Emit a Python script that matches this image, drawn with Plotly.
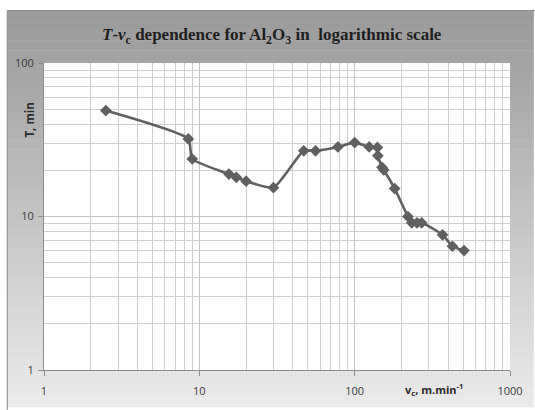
import plotly.graph_objects as go

# Data
v_c = [2.5, 8.5, 9, 15.5, 17.3, 20, 30, 47, 56, 78, 100, 124, 140, 141, 150, 154, 181, 220, 233, 252, 270, 368, 426, 506]
T_min = [49, 32, 23.7, 18.9, 18, 17, 15.4, 26.8, 26.8, 28.4, 30.3, 28.4, 28.2, 24.9, 20.9, 20.1, 15.2, 10, 9.1, 9.1, 9.1, 7.6, 6.4, 6.0]

x_ticks = [1, 10, 100, 1000]
x_tick_labels = ["1", "10", "100", "1000"]
y_ticks = [1, 10, 100]
y_tick_labels = ["1", "10", "100"]

W, H = 535, 410
L, R, TOP, B = 44, 22, 63, 37
pw, ph = W - L - R, H - TOP - B


def px_x(p):
    return (p - L) / pw


def px_y(p):
    return (H - B - p) / ph


fig = go.Figure()
fig.add_trace(go.Scatter(
    x=v_c, y=T_min, mode="lines+markers",
    line=dict(color="#606060", width=2.6, shape="spline", smoothing=0.5),
    marker=dict(symbol="diamond", size=9, color="#606060"),
    showlegend=False, hoverinfo="skip",
))

shapes = []
# vertical gray gradient background
n = 40
top, bot = 10, H
for i in range(n):
    y0 = top + (bot - top) * i / n
    y1 = top + (bot - top) * (i + 1) / n
    g = int(153 + (236 - 153) * (i + 0.5) / n)
    shapes.append(dict(type="rect", xref="paper", yref="paper", layer="below",
                       x0=px_x(7), x1=px_x(W + 2), y0=px_y(y1 + 0.5), y1=px_y(y0),
                       fillcolor=f"rgb({g},{g},{g})", line=dict(width=0)))
shapes.append(dict(type="rect", xref="paper", yref="paper", layer="below",
                   x0=px_x(7), x1=px_x(W + 5), y0=px_y(H + 5), y1=px_y(10),
                   fillcolor="rgba(0,0,0,0)", line=dict(color="#8a8a8a", width=1)))
shapes.append(dict(type="rect", xref="paper", yref="paper", layer="below",
                   x0=0, x1=1, y0=0, y1=1, fillcolor="white", line=dict(width=0)))

grid = "#cfcfcf"
axis_common = dict(
    type="log", showgrid=True, gridcolor="#c4c4c4", gridwidth=1,
    showline=True, linecolor="#8c8c8c", linewidth=1,
    ticks="outside", ticklen=5, tickcolor="#8c8c8c",
    tickfont=dict(family="Open Sans, DejaVu Sans, sans-serif", size=11, color="#3a3a3a"),
    minor=dict(dtick="D1", showgrid=True, gridcolor=grid, gridwidth=1, ticks=""),
    zeroline=False, mirror=False,
)

fig.update_layout(
    width=W, height=H,
    margin=dict(l=L, r=R, t=TOP, b=B, pad=0),
    paper_bgcolor="white", plot_bgcolor="white",
    shapes=shapes,
    xaxis=dict(axis_common, range=[0, 3], tickvals=x_ticks, ticktext=x_tick_labels,
               ticklabelstandoff=6),
    yaxis=dict(axis_common, range=[0, 2], tickvals=y_ticks, ticktext=y_tick_labels,
               ticklabelstandoff=2),
    annotations=[
        dict(text="<b><i>T</i>-<i>v</i><sub>c</sub> dependence for Al<sub>2</sub>O<sub>3</sub> in&nbsp; logarithmic scale</b>",
             xref="paper", yref="paper", x=px_x(273), y=px_y(36), showarrow=False,
             xanchor="center", yanchor="middle",
             font=dict(family="Liberation Serif, serif", size=17, color="#1e1e1e")),
        dict(text="<b>T, min</b>", textangle=-90,
             xref="paper", yref="paper", x=px_x(29), y=px_y(121), showarrow=False,
             xanchor="center", yanchor="middle",
             font=dict(family="Open Sans, DejaVu Sans, sans-serif", size=11.5, color="#2a2a2a")),
        dict(text="<b>v<sub>c</sub>, m.min<sup>-1</sup></b>",
             xref="paper", yref="paper", x=px_x(437), y=px_y(393), showarrow=False,
             xanchor="center", yanchor="middle",
             font=dict(family="Open Sans, DejaVu Sans, sans-serif", size=11, color="#2a2a2a")),
    ],
)

fig.write_html("out.html")
